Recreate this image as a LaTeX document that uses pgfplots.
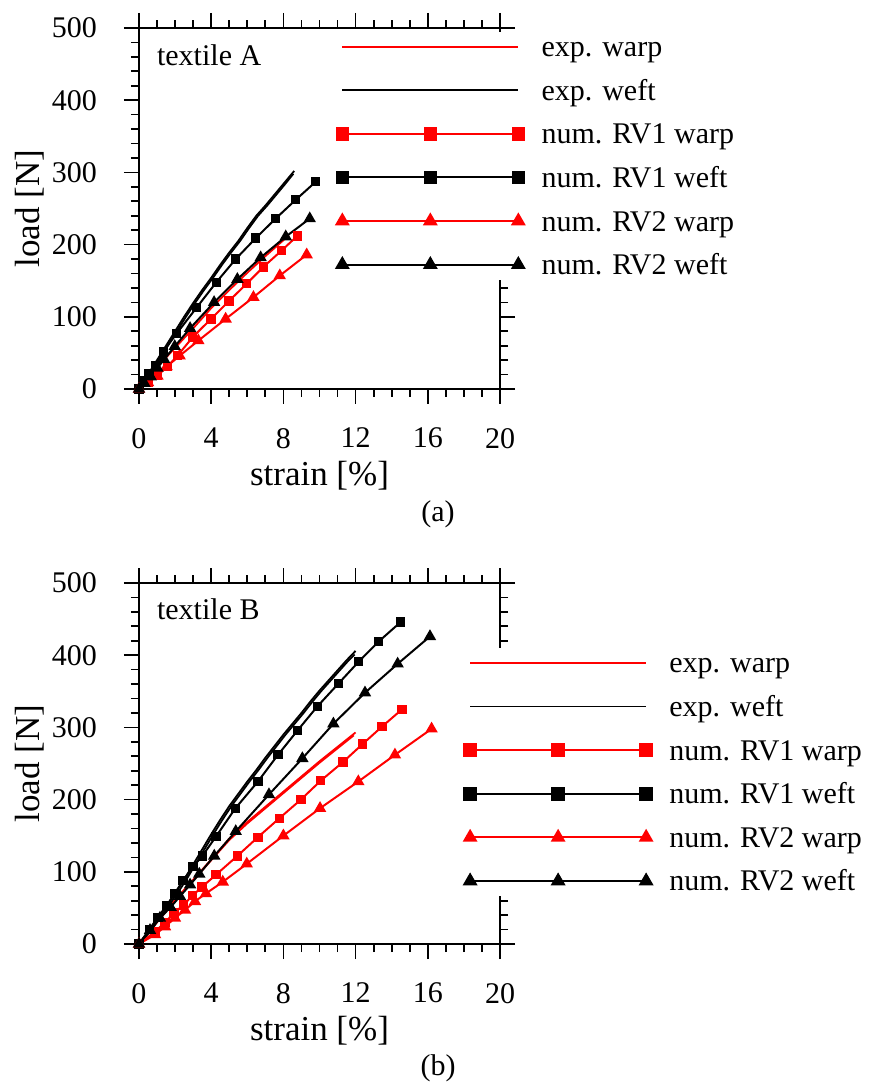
\documentclass[border=0pt]{standalone}
\usepackage{fontspec}
\setmainfont{Liberation Serif}
\usepackage{pgfplots}
\pgfplotsset{compat=1.18}

\pgfplotsset{
  textile/.style={
    width=180.5pt, height=180.5pt, scale only axis,
    anchor=south west,
    xmin=0, xmax=20, ymin=0, ymax=500,
    xtick={0,4,...,20}, ytick={0,100,...,500},
    minor x tick num=3, minor y tick num=4,
    tick align=outside,
    major tick length=7.5pt, minor tick length=4pt,
    axis line style={line width=0.85pt},
    every tick/.style={black, line width=0.85pt},
    clip=false,
    /pgf/number format/assume math mode=true,
    tick label style={font=\fontsize{15}{18}\selectfont},
    xticklabel style={yshift=-8.5pt},
    yticklabel style={xshift=-10pt},
    xlabel={strain [\%]}, ylabel={load [N]},
    every axis x label/.style={at={(axis description cs:0.5,-0.266)}, anchor=base,
      font=\fontsize{17.5}{21}\selectfont},
    every axis y label/.style={at={(axis description cs:-0.3025,0.5)}, anchor=center, rotate=90,
      font=\fontsize{17.5}{21}\selectfont},
    legend cell align=left,
    legend image code/.code={
      \path[draw=none, fill=none] (-5pt,-4pt) rectangle (93pt,4pt);
      \draw[##1] plot coordinates {(0pt,0pt) (44pt,0pt) (88pt,0pt)};
    },
    legend style={fill=white, draw=none, inner sep=1pt, outer sep=0pt,
      row sep=8.8pt, column sep=6.6pt, anchor=north west,
      font=\fontsize{15}{18}\selectfont,
      nodes={inner sep=0pt, text height=11.5pt, text depth=1.5pt}},
  },
  expwarp/.style={red, line width=0.9pt, mark=none},
  expweft/.style={black, line width=0.9pt, mark=none},
  rv1warp/.style={red, line width=1pt, mark=square*, mark size=1.8pt, mark options={solid, fill=red},
    legend image post style={mark size=2.9pt}},
  rv1weft/.style={black, line width=1pt, mark=square*, mark size=1.8pt, mark options={solid, fill=black},
    legend image post style={mark size=2.9pt}},
  rv2warp/.style={red, line width=1pt, mark=triangle*, mark size=2.6pt, mark options={solid, fill=red},
    legend image post style={mark size=3.3pt}},
  rv2weft/.style={black, line width=1pt, mark=triangle*, mark size=2.6pt, mark options={solid, fill=black},
    legend image post style={mark size=3.3pt}},
}

\begin{document}
\begin{tikzpicture}
\useasboundingbox (-69.5pt,-69pt) rectangle (364.5pt,472pt);

% (a) textile A
\begin{axis}[textile, at={(0pt,277.5pt)},
  legend style={at={(axis description cs:0.530,0.990)}}]
\addplot[expwarp] coordinates {(0,0) (1,30) (2,57) (3,84) (4,112) (5,137) (6,161) (7,184) (8,206) (8.3,213)};
\addlegendentry{exp. warp}
\addplot[expweft] coordinates {(0,0) (0.5,20) (1,40) (1.5,60) (2,80) (2.5,100) (3,119) (3.5,137) (4,154) (4.5,172) (5,189) (5.5,205) (6,223) (6.5,240) (7,254) (7.5,269) (8,284) (8.6,302)};
\addlegendentry{exp. weft}
\addplot[expweft, forget plot] coordinates {(0,0) (0.6,20) (1.1,40) (1.6,60) (2.1,80) (2.6,100) (3.1,119) (3.6,137) (4.1,154) (4.6,172) (5.1,189) (5.6,205) (6.1,223) (6.6,240) (7.1,254) (7.6,269) (8.1,284) (8.55,298)};
\addplot[rv1warp] coordinates {(0,0) (0.5,9) (1.02,19) (1.57,31) (2.13,46) (2.98,72) (3.99,97) (4.99,122) (5.97,146) (6.89,169) (7.91,192) (8.77,212)};
\addlegendentry{num. RV1 warp}
\addplot[rv1weft] coordinates {(0,0) (0.3,12) (0.55,22) (0.9,33) (1.35,52) (2.09,77) (3.2,113) (4.29,148) (5.36,180) (6.47,209) (7.57,236) (8.68,262) (9.79,287)};
\addlegendentry{num. RV1 weft}
\addplot[rv2warp] coordinates {(0,0) (0.5,9) (1.02,18) (1.53,31) (2.25,46) (3.29,67) (4.8,97) (6.34,127) (7.8,157) (9.29,186)};
\addlegendentry{num. RV2 warp}
\addplot[rv2weft] coordinates {(0,0) (0.3,8) (0.65,17) (1.02,29) (1.39,41) (1.98,59) (2.83,84) (4.16,120) (5.45,152) (6.74,182) (8.13,211) (9.46,236)};
\addlegendentry{num. RV2 weft}
\node[anchor=base west, inner sep=0pt, font=\fontsize{15}{18}\selectfont] at (axis description cs:0.049,0.8975) {textile A};
\end{axis}

% (b) textile B
\begin{axis}[textile, at={(0pt,0pt)},
  legend style={at={(axis description cs:0.884,0.820)}}]
\addplot[expwarp] coordinates {(0,0) (0.5,16) (1,31) (1.5,46) (2,61) (2.5,75) (3,89) (3.5,103) (4,117) (4.5,131) (5,146) (5.4,156) (6,169) (7,190) (8,211) (9,232) (10,253) (11,273) (12,293)};
\addlegendentry{exp. warp}
\addplot[expwarp, forget plot] coordinates {(0,0) (0.5,15) (1,30) (2,60) (3,88) (4,116) (5,144) (6,167) (7,188) (8,209) (9,230) (10,251) (11,271) (11.9,289)};
\addplot[expweft] coordinates {(0,0) (0.5,17) (1,35) (1.5,52) (2,70) (2.5,89) (3,110) (3.5,131) (4,152) (4.5,172) (5,191) (5.5,208) (6,225) (6.5,241) (7,258) (7.5,274) (8,290) (8.5,305) (9,320) (9.5,336) (10,351) (10.5,365) (11,379) (11.5,393) (12,406)};
\addlegendentry{exp. weft}
\addplot[expweft, forget plot] coordinates {(0,0) (0.62,17) (1.12,35) (1.62,52) (2.12,70) (2.62,89) (3.12,110) (3.62,131) (4.12,152) (4.62,172) (5.12,191) (5.62,208) (6.12,225) (6.62,241) (7.12,258) (7.62,274) (8.12,290) (8.62,305) (9.12,320) (9.62,336) (10.12,351) (10.62,365) (11.12,379) (11.62,393) (11.95,401)};
\addplot[rv1warp] coordinates {(0,0) (0.89,17) (1.44,30) (1.94,43) (2.46,54) (2.97,67) (3.49,79) (4.27,96) (5.45,122) (6.59,148) (7.77,174) (8.97,200) (10.06,226) (11.3,252) (12.39,277) (13.46,301) (14.57,325)};
\addlegendentry{num. RV1 warp}
\addplot[rv1weft] coordinates {(0,0) (0.57,20) (1.05,37) (1.53,53) (1.98,70) (2.44,88) (2.99,107) (3.51,122) (4.27,149) (5.34,188) (6.59,225) (7.7,262) (8.79,296) (9.88,329) (11.06,361) (12.17,391) (13.28,419) (14.5,446)};
\addlegendentry{num. RV1 weft}
\addplot[rv2warp] coordinates {(0,0) (0.89,13) (1.44,24) (1.99,36) (2.55,47) (3.1,59) (3.71,70) (4.64,86) (5.97,111) (8.0,150) (10.03,188) (12.15,225) (14.18,262) (16.21,298)};
\addlegendentry{num. RV2 warp}
\addplot[rv2weft] coordinates {(0,0) (0.61,19) (1.16,36) (1.75,51) (2.27,66) (2.83,82) (3.34,97) (4.17,122) (5.36,156) (7.2,207) (9.05,257) (10.77,305) (12.52,348) (14.33,388) (16.12,426)};
\addlegendentry{num. RV2 weft}
\node[anchor=base west, inner sep=0pt, font=\fontsize{15}{18}\selectfont] at (axis description cs:0.049,0.900) {textile B};
\end{axis}

\node[font=\fontsize{15}{18}\selectfont] at (149.5pt,215pt) {(a)};
\node[font=\fontsize{15}{18}\selectfont] at (149.5pt,-62pt) {(b)};
\end{tikzpicture}
\end{document}
